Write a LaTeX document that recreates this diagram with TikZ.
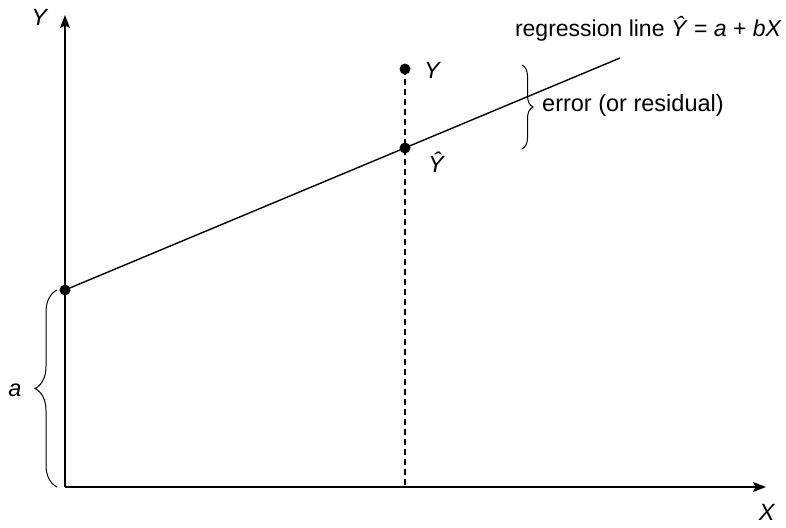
\documentclass[tikz,border=0pt]{standalone}
\usepackage{fontspec}
\setmainfont{Liberation Sans}
\usetikzlibrary{arrows.meta,decorations.pathreplacing}
\begin{document}
\begin{tikzpicture}[x=1pt,y=-1pt,
  lbl/.style={font=\fontsize{23.5}{28}\selectfont,inner sep=0pt},
  axis/.style={line width=1.6pt,-{Stealth[length=13pt,width=10pt,inset=2.5pt]}},
  dot/.style={circle,fill=black,inner sep=0pt,minimum size=11pt},
  brc/.style={decorate,decoration={brace,amplitude=#1},line width=1pt}]
\useasboundingbox (0,0) rectangle (786,527);
\coordinate (O) at (65,487);
\coordinate (Ytop) at (65,15);
\coordinate (Xend) at (766,487);
\coordinate (Lend) at (620,58);
\coordinate (Xfoot) at (405,487);
\node[dot] (A) at (65,290) {};
\node[dot] (Yh) at (405,148) {};
\node[dot] (Yp) at (405,69) {};
\draw[axis] (O) -- (Ytop);
\draw[axis] (O) -- (Xend);
\draw[line width=1.4pt] (A.center) -- (Lend);
\draw[line width=1.2pt,dash pattern=on 6pt off 4pt] (Yp.center) -- (Xfoot);
\node[lbl] (ly) at (40,17) {\textit{Y}};
\node[lbl] (lx) at (767,512) {\textit{X}};
\node[lbl,anchor=west] (lyp) at (424,70) {\textit{Y}};
\node[lbl,anchor=west] (lyh) at (428,162) {\textit{\^{Y}}};
\node[lbl,anchor=base east,font=\fontsize{23}{28}\selectfont] (reg) at (782,37) {regression line \textit{\^{Y}} = \textit{a} + \textit{bX}};
\coordinate (e1) at (522,65);
\coordinate (e2) at (522,149);
\draw[brc=11pt] (e1) -- (e2);
\node[lbl,anchor=west] (err) at (542,105) {error (or residual)};
\coordinate (a1) at (57,487);
\coordinate (a2) at (57,290);
\draw[brc=22pt] (a1) -- (a2);
\node[lbl] (la) at (15,390) {\textit{a}};
\end{tikzpicture}
\end{document}
